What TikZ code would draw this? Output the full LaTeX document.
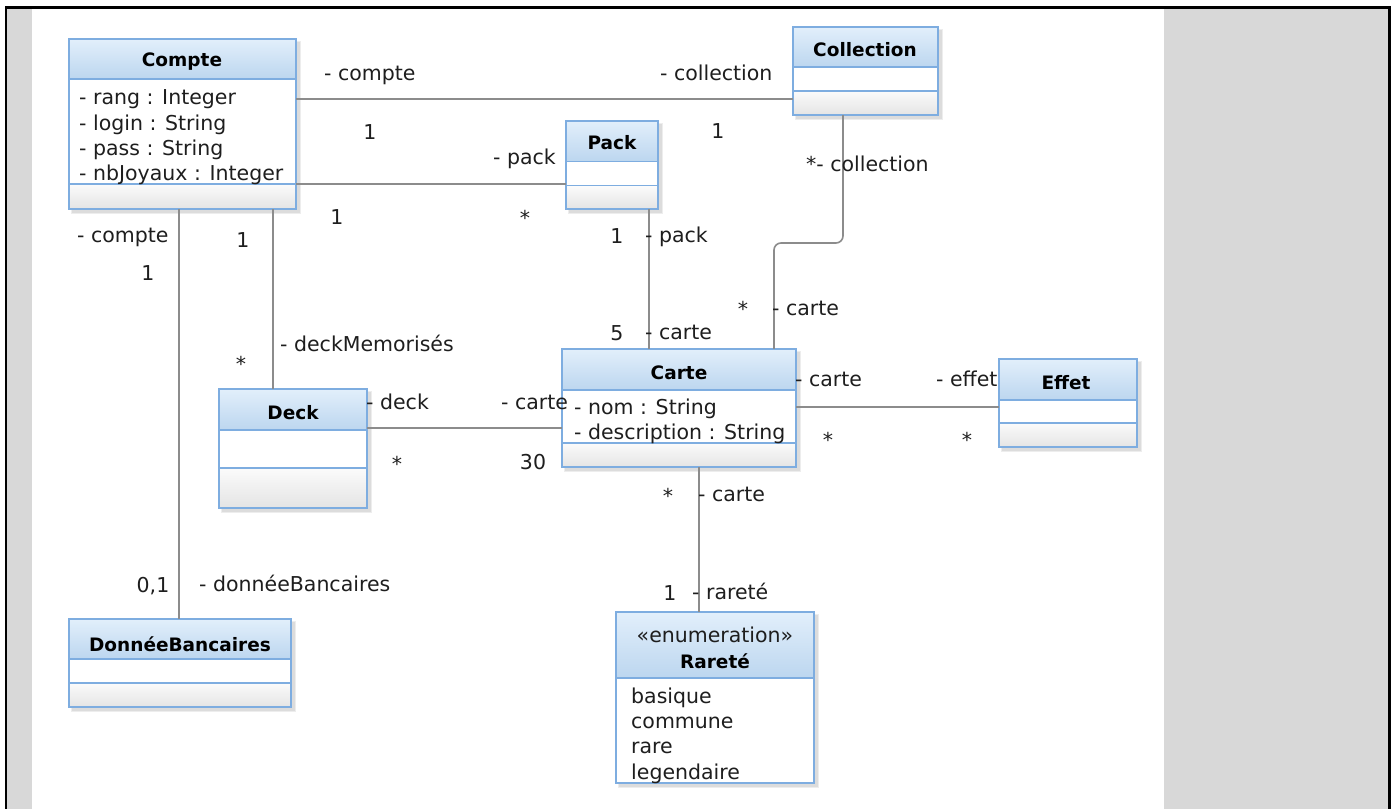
\documentclass[tikz,border=0pt]{standalone}
\usepackage{fontspec}
\setmainfont{DejaVu Sans}
\usetikzlibrary{fit}

\definecolor{sidegray}{HTML}{D8D8D8}
\definecolor{boxblue}{HTML}{7EADE0}
\definecolor{hdtop}{HTML}{E2EFFB}
\definecolor{hdbot}{HTML}{BCD6EF}
\definecolor{optop}{HTML}{FBFBFB}
\definecolor{opbot}{HTML}{E4E4E4}
\definecolor{wire}{HTML}{8C8C8C}
\definecolor{ink}{HTML}{1E1E1E}

\tikzset{
  boxline/.style={draw=boxblue, line width=1.6pt},
  assoc/.style={draw=wire, line width=1.6pt},
  lbl/.style={inner sep=0pt, text=ink, font=\fontsize{20.5}{24}\selectfont},
  role/.style={lbl, anchor=base west},
  mult/.style={lbl, anchor=base},
  attr/.style={lbl, anchor=base west},
  title/.style={inner sep=0pt, text=black, font=\fontsize{18.5}{22}\selectfont\bfseries},
}

% class box: name, left, top, right, bottom, header bottom, second divider
\newcommand{\umlclass}[7]{%
  \fill[black, opacity=0.07] (#2+2,#3+2) rectangle (#4+5,#5+5);
  \fill[black, opacity=0.07] (#2+3,#3+3) rectangle (#4+3.5,#5+3.5);
  \node[inner sep=0pt, fit={(#2,#3) (#4,#5)}] (#1) {};
  \fill[white] (#2,#3) rectangle (#4,#5);
  \shade[top color=hdtop, bottom color=hdbot] (#2,#3) rectangle (#4,#6);
  \shade[top color=optop, bottom color=opbot] (#2,#7) rectangle (#4,#5);
  \draw[boxline] (#2,#6) -- (#4,#6) (#2,#7) -- (#4,#7);
  \draw[boxline] (#1.north west) rectangle (#1.south east);
}

\begin{document}
\begin{tikzpicture}[x=1pt, y=-1pt]
\useasboundingbox (0,0) rectangle (1395,809);
\fill[white] (0,0) rectangle (1395,809);

% page frame
\fill[sidegray] (7.3,8.5) rectangle (32,809);
\fill[sidegray] (1164,8.5) rectangle (1387.7,809);
\fill[black] (5,5.5) rectangle (1391,8.5);
\fill[black] (5,5.5) rectangle (7.3,809);
\fill[black] (1387.7,5.5) rectangle (1391,809);

% classes
\umlclass{compte}{69}{39}{296}{209}{79}{184}
\umlclass{collection}{793}{27}{938}{115}{67}{91}
\umlclass{pack}{566}{121}{658}{209}{161.5}{185.5}
\umlclass{carte}{562}{349}{796}{467}{390}{443}
\umlclass{effet}{999}{359}{1137}{447}{400}{423}
\umlclass{deck}{219}{389}{367}{508}{430}{468}
\umlclass{donnee}{69}{619}{291}{707}{659}{683}
\umlclass{rarete}{616}{612}{814}{783}{678}{783}

% associations
\draw[assoc] (compte.east |- 0,99) -- (collection.west |- 0,99);
\draw[assoc] (compte.east |- 0,184) -- (pack.west |- 0,184);
\draw[assoc] (compte.south -| 273,0) -- (deck.north -| 273,0);
\draw[assoc] (compte.south -| 179,0) -- (donnee.north -| 179,0);
\draw[assoc] (pack.south -| 649,0) -- (carte.north -| 649,0);
\draw[assoc, rounded corners=7pt] (collection.south -| 843,0) -- (843,243) -- (774,243) -- (carte.north -| 774,0);
\draw[assoc] (carte.east |- 0,407) -- (effet.west |- 0,407);
\draw[assoc] (deck.east |- 0,428) -- (carte.west |- 0,428);
\draw[assoc] (carte.south -| 699,0) -- (rarete.north -| 699,0);

% class names
\node[title] (tcompte) at (182,62) {Compte};
\node[title] (tcollection) at (865,50) {Collection};
\node[title] (tpack) at (612,143) {Pack};
\node[title] (tcarte) at (679,373) {Carte};
\node[title] (teffet) at (1066,383) {Effet};
\node[title] (tdeck) at (293,413) {Deck};
\node[title] (tdonnee) at (180,644) {DonnéeBancaires};
\node[lbl] (tstereo) at (715,635) {«enumeration»};
\node[title] (trarete) at (715,661) {Rareté};

% attributes
\begin{scope}
\clip (69,79) rectangle (296,184);
\node[attr] (a1) at (79,104) {- rang : Integer};
\node[attr] (a2) at (79,130) {- login : String};
\node[attr] (a3) at (79,155) {- pass : String};
\node[attr] (a4) at (79,180) {- nbJoyaux : Integer};
\end{scope}
\begin{scope}
\clip (562,390) rectangle (796,443);
\node[attr] (a5) at (574,414) {- nom : String};
\node[attr] (a6) at (574,439) {- description : String};
\end{scope}
\begin{scope}
\clip (616,678) rectangle (814,783);
\node[attr] (e1) at (631,703) {basique};
\node[attr] (e2) at (631,728) {commune};
\node[attr] (e3) at (631,753) {rare};
\node[attr] (e4) at (631,779) {legendaire};
\end{scope}

% role names
\node[role] (r1) at (324,80) {- compte};
\node[role] (r2) at (660,80) {- collection};
\node[role] (r3) at (493,164) {- pack};
\node[role] (r4) at (77,242) {- compte};
\node[role] (r5) at (280,351) {- deckMemorisés};
\node[role] (r6) at (199,591) {- donnéeBancaires};
\node[role] (r7) at (645,242) {- pack};
\node[role] (r8) at (645,339) {- carte};
\node[role] (r9) at (806,171) {*- collection};
\node[role] (r10) at (772,315) {- carte};
\node[role] (r11) at (795,386) {- carte};
\node[role] (r12) at (936,386) {- effet};
\node[role] (r13) at (366,409) {- deck};
\node[role] (r14) at (501,409) {- carte};
\node[role] (r15) at (698,501) {- carte};
\node[role] (r16) at (692,599) {- rareté};

% multiplicities
\node[mult] (m1) at (370,139.5) {1};
\node[mult] (m2) at (718,138.5) {1};
\node[mult] (m3) at (337,224.5) {1};
\node[mult] (m4) at (525,225) {*};
\node[mult] (m5) at (243,247.5) {1};
\node[mult] (m6) at (148,280.5) {1};
\node[mult] (m7) at (241,371) {*};
\node[mult] (m8) at (153,592.5) {0,1};
\node[mult] (m9) at (617,243.5) {1};
\node[mult] (m10) at (617,340.5) {5};
\node[mult] (m11) at (743,316) {*};
\node[mult] (m12) at (828,447) {*};
\node[mult] (m13) at (967,447) {*};
\node[mult] (m14) at (397,471) {*};
\node[mult] (m15) at (533,469.5) {30};
\node[mult] (m16) at (668,503) {*};
\node[mult] (m17) at (670,600.5) {1};
\end{tikzpicture}
\end{document}
